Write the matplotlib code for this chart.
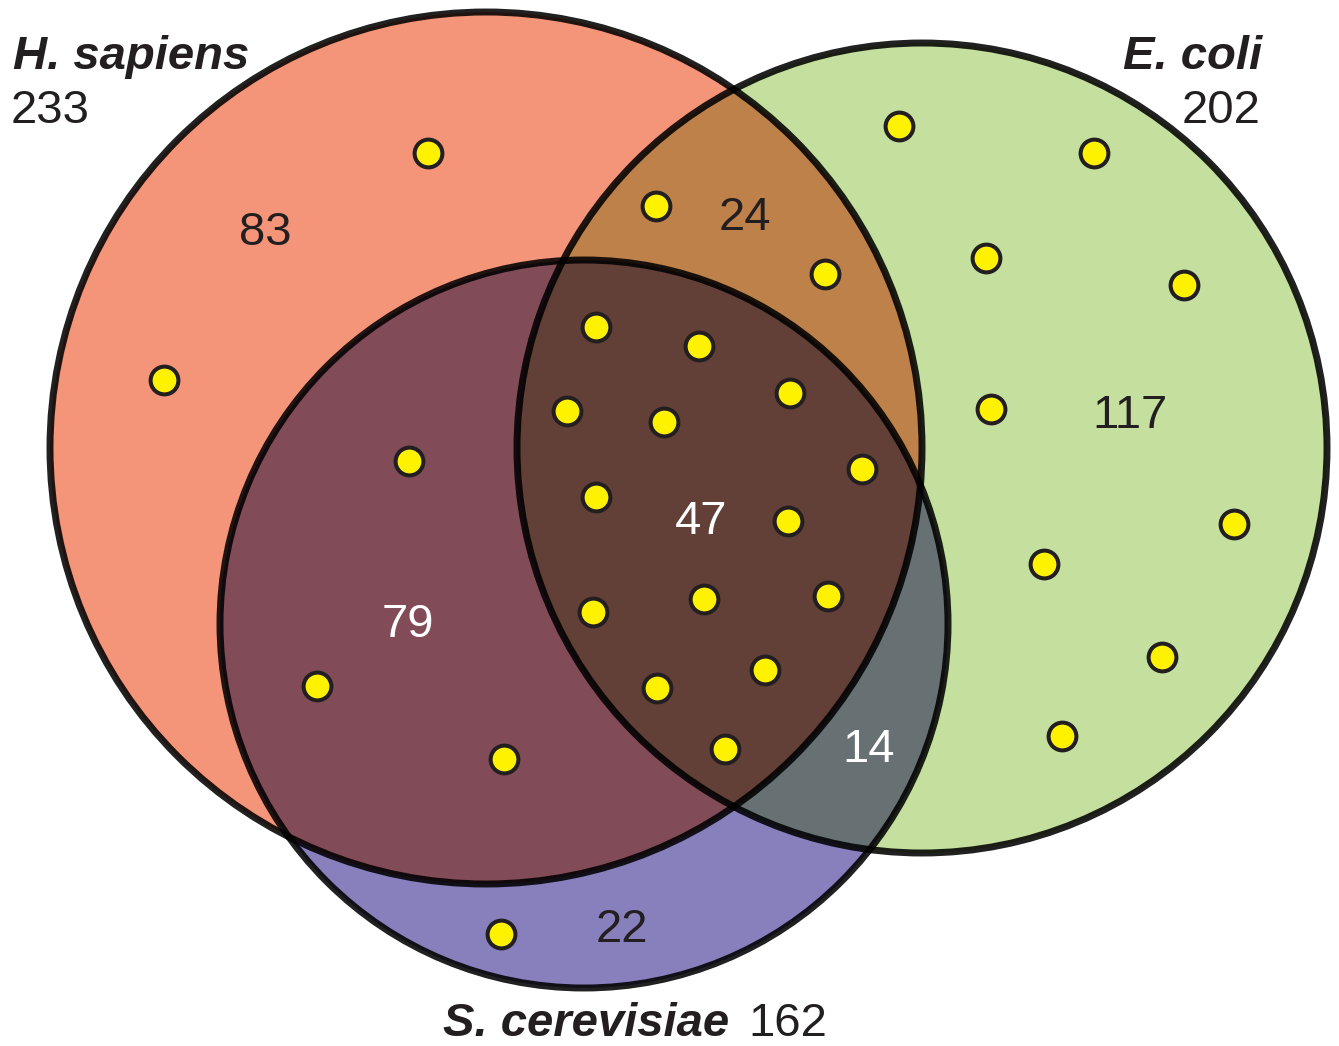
import numpy as np
import matplotlib
matplotlib.use("Agg")
import matplotlib.pyplot as plt
from matplotlib.patches import Circle, Polygon

# ---- data ----
sets = ["H. sapiens", "E. coli", "S. cerevisiae"]
set_totals = [233, 202, 162]
# region counts: H only, E only, S only, H&E, H&S, E&S, H&E&S
region_names = ["H", "E", "S", "HE", "HS", "ES", "HES"]
region_counts = [83, 117, 22, 24, 79, 14, 47]

# circle geometry (pixel space, y down)
circle_cx = [486, 922, 584]
circle_cy = [448, 448, 624]
circle_r = [436, 405, 364]

# highlighted elements (dots)
dots_x = [428, 164,
          656, 825,
          899, 1094, 986, 1184, 991, 1234, 1044, 1162, 1062,
          409, 317, 504,
          596, 699, 790, 567, 664, 862, 596, 788, 593, 704, 828, 657, 765, 725,
          501]
dots_y = [153, 380,
          206, 274,
          126, 153, 258, 285, 409, 524, 564, 657, 736,
          461, 686, 759,
          327, 346, 393, 411, 422, 469, 497, 521, 612, 599, 596, 688, 670, 749,
          934]

# label positions for region counts (center x, baseline y)
count_x = [265, 1130, 622, 745, 408, 869, 701]
count_y = [245, 428, 942, 230, 637, 762, 534]
count_color = ["#231F20", "#231F20", "#231F20", "#231F20", "white", "white", "white"]

col_H = "#F4957A"
col_E = "#C4DF9E"
col_S = "#8780BD"
col_HE = "#BD8149"
col_HS = "#824B58"
col_ES = "#677073"
col_HES = "#623F37"
edge = "#231F20"

W, Hh = 1339, 1046
fig = plt.figure(figsize=(W / 100, Hh / 100), dpi=100)
ax = fig.add_axes([0, 0, 1, 1])
ax.set_xlim(0, W)
ax.set_ylim(Hh, 0)
ax.set_aspect("equal")
ax.axis("off")

def circ(i, fc, z):
    c = Circle((circle_cx[i], circle_cy[i]), circle_r[i], facecolor=fc,
               edgecolor="none", zorder=z)
    ax.add_patch(c)
    return c

cH = circ(0, col_H, 1)
cE = circ(1, col_E, 1)
cS = circ(2, col_S, 1)

# H & E
p = Circle((circle_cx[1], circle_cy[1]), circle_r[1], facecolor=col_HE, edgecolor="none", zorder=2)
ax.add_patch(p); p.set_clip_path(cH)
# H & S
p = Circle((circle_cx[2], circle_cy[2]), circle_r[2], facecolor=col_HS, edgecolor="none", zorder=3)
ax.add_patch(p); p.set_clip_path(cH)
# E & S
p = Circle((circle_cx[2], circle_cy[2]), circle_r[2], facecolor=col_ES, edgecolor="none", zorder=4)
ax.add_patch(p); p.set_clip_path(cE)

# lens H & E polygon, then clip to S
t = np.linspace(0, 2 * np.pi, 2000)
hx = circle_cx[0] + circle_r[0] * np.cos(t); hy = circle_cy[0] + circle_r[0] * np.sin(t)
ex = circle_cx[1] + circle_r[1] * np.cos(t); ey = circle_cy[1] + circle_r[1] * np.sin(t)
in_e = (hx - circle_cx[1]) ** 2 + (hy - circle_cy[1]) ** 2 <= circle_r[1] ** 2
in_h = (ex - circle_cx[0]) ** 2 + (ey - circle_cy[0]) ** 2 <= circle_r[0] ** 2
px = np.concatenate([hx[in_e], ex[in_h]]); py = np.concatenate([hy[in_e], ey[in_h]])
ang = np.arctan2(py - py.mean(), px - px.mean())
o = np.argsort(ang)
lens = Polygon(np.column_stack([px[o], py[o]]), closed=True, facecolor=col_HES,
               edgecolor="none", zorder=5)
ax.add_patch(lens)
lens.set_clip_path(cS)

# outlines
for i in range(3):
    ax.add_patch(Circle((circle_cx[i], circle_cy[i]), circle_r[i], facecolor="none",
                        edgecolor="black", alpha=0.87, linewidth=5.0, zorder=6))

# dots
ax.plot(dots_x, dots_y, linestyle="none", marker="o", markersize=20,
        markerfacecolor="#FFF200", markeredgecolor=edge, markeredgewidth=2.9, zorder=7)

font = "Liberation Sans"
fs = 34
for n, x, y, c in zip(region_counts, count_x, count_y, count_color):
    ax.text(x, y, str(n), ha="center", va="baseline", fontsize=fs, color=c,
            family=font, zorder=8)

ax.text(13, 69, sets[0], ha="left", va="baseline", fontsize=fs, fontweight="bold",
        fontstyle="italic", family=font, color=edge)
ax.text(11, 123, str(set_totals[0]), ha="left", va="baseline", fontsize=fs, family=font, color=edge)
ax.text(1262, 69, sets[1], ha="right", va="baseline", fontsize=fs, fontweight="bold",
        fontstyle="italic", family=font, color=edge)
ax.text(1261, 123, str(set_totals[1]), ha="right", va="baseline", fontsize=fs, family=font, color=edge)
ax.text(443, 1036, sets[2], ha="left", va="baseline", fontsize=fs, fontweight="bold",
        fontstyle="italic", family=font, color=edge)
ax.text(827, 1036, str(set_totals[2]), ha="right", va="baseline", fontsize=fs, family=font, color=edge)

fig.savefig("out.png", dpi=100, facecolor="white")
